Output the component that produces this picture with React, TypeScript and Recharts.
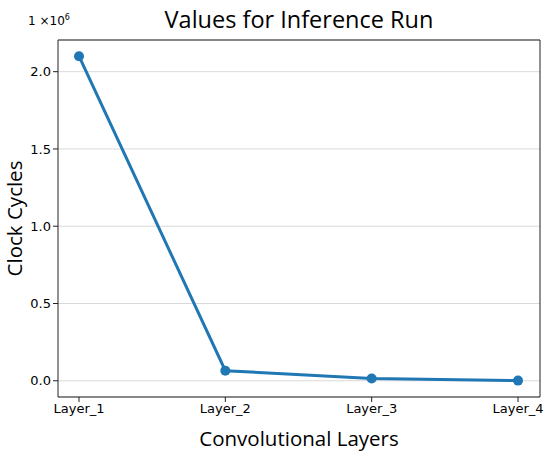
import React from "react";
import { LineChart, Line, XAxis, YAxis, CartesianGrid, Label } from "recharts";

const layers = ["Layer_1", "Layer_2", "Layer_3", "Layer_4"];
const clockCycles = [2100000, 65000, 15000, 1000];
const yTicks = [0, 500000, 1000000, 1500000, 2000000];

const data = layers.map((layer, i) => ({ layer, cycles: clockCycles[i] }));

const FONT = "'Open Sans', 'DejaVu Sans', sans-serif";
const TICK_FONT = "'DejaVu Sans', sans-serif";
const AXIS = "#222";

export default function App() {
  return (
    <div style={{ position: "absolute", left: 0, top: 0, width: 550, height: 454, background: "#fff" }}>
      <div
        style={{
          position: "absolute",
          left: 58,
          width: 482,
          top: 3,
          textAlign: "center",
          fontFamily: FONT,
          fontSize: 23.5,
          color: "#000",
        }}
      >
        Values for Inference Run
      </div>
      <div
        style={{
          position: "absolute",
          left: 28,
          top: 13,
          fontFamily: TICK_FONT,
          fontSize: 12,
          color: "#000",
        }}
      >
        1 ×10<sup style={{ fontSize: 8 }}>6</sup>
      </div>
      <LineChart
        width={550}
        height={454}
        data={data}
        margin={{ top: 39, right: 9, bottom: 0, left: 0 }}
      >
        <CartesianGrid horizontal={true} vertical={false} stroke="#d9d9d9" strokeWidth={1} />
        <XAxis
          dataKey="layer"
          padding={{ left: 21, right: 22 }}
          stroke={AXIS}
          tick={{ fill: "#000", fontSize: 13, fontFamily: TICK_FONT }}
          tickLine={{ stroke: AXIS }}
          tickSize={5}
          height={57}
        >
          <Label
            value="Convolutional Layers"
            position="insideBottom"
            offset={8}
            style={{ fontFamily: FONT, fontSize: 20.5, fill: "#000" }}
          />
        </XAxis>
        <XAxis xAxisId="top" orientation="top" dataKey="layer" tick={false} tickLine={false} stroke={AXIS} height={1} padding={{ left: 21, right: 22 }} />
        <YAxis
          type="number"
          domain={[-105000, 2205000]}
          ticks={yTicks}
          tickFormatter={(v: number) => (v / 1000000).toFixed(1)}
          width={58}
          stroke={AXIS}
          tick={{ fill: "#000", fontSize: 13, fontFamily: TICK_FONT }}
          tickLine={{ stroke: AXIS }}
          tickSize={5}
          interval={0}
        >
          <Label
            value="Clock Cycles"
            angle={-90}
            position="insideLeft"
            offset={15}
            style={{ fontFamily: FONT, fontSize: 20.5, fill: "#000", textAnchor: "middle" }}
          />
        </YAxis>
        <YAxis yAxisId="right" orientation="right" tick={false} tickLine={false} stroke={AXIS} width={1} domain={[0, 1]} />
        <Line
          type="linear"
          dataKey="cycles"
          stroke="#1f77b4"
          strokeWidth={3}
          dot={{ r: 5, fill: "#1f77b4", stroke: "#1f77b4", strokeWidth: 0 }}
          activeDot={false}
          isAnimationActive={false}
        />
      </LineChart>
    </div>
  );
}
